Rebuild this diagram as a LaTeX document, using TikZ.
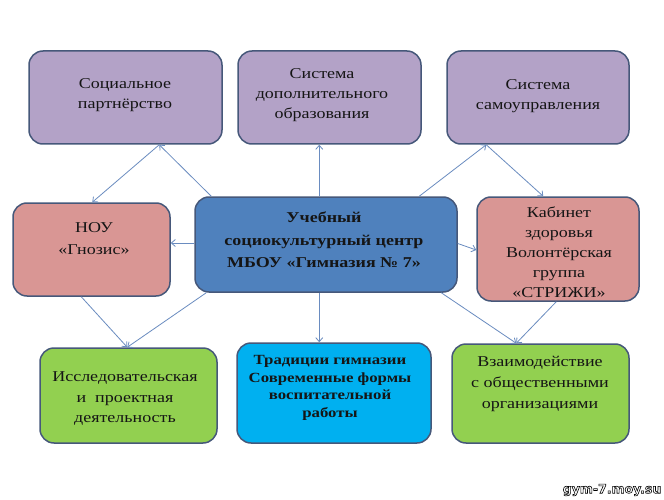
\documentclass[tikz,border=0pt]{standalone}
\usepackage{fontspec}
\setmainfont{Liberation Serif}[FakeStretch=1.2]
\newfontfamily\wmfont{DejaVu Sans}
\usetikzlibrary{arrows.meta,calc}
\definecolor{purp}{HTML}{B3A2C7}
\definecolor{pinkc}{HTML}{D99694}
\definecolor{bluec}{HTML}{4F81BD}
\definecolor{greenc}{HTML}{92D050}
\definecolor{cyanc}{HTML}{00B0F0}
\definecolor{edgec}{HTML}{46587A}
\definecolor{connc}{HTML}{6A8CC0}
\definecolor{txtc}{HTML}{151515}
\begin{document}
\begin{tikzpicture}[x=1pt,y=-1pt,
  box/.style={draw=edgec, line width=1.5pt, rounded corners=14pt, inner sep=0pt},
  txt/.style={align=center, text=txtc, inner sep=0pt, font=\fontsize{15}{20}\selectfont},
  link/.style={draw=connc, line width=0.8pt, -{Straight Barb[length=4pt,width=7pt]}}]
\useasboundingbox (0,0) rectangle (664,500);
\fill[white] (0,0) rectangle (664,500);

% boxes
\node[box, fill=purp,   minimum width=193pt, minimum height=93pt]  (A)   at (125.5,97.5) {};
\node[box, fill=purp,   minimum width=183pt, minimum height=93pt]  (B)   at (329.5,97.5) {};
\node[box, fill=purp,   minimum width=182pt, minimum height=93pt]  (C)   at (538,97.5) {};
\node[box, fill=pinkc,  minimum width=157pt, minimum height=93pt]  (nou) at (91.5,249.5) {};
\node[box, fill=bluec,  minimum width=262pt, minimum height=95pt]  (ctr) at (326,244.5) {};
\node[box, fill=pinkc,  minimum width=162pt, minimum height=104pt] (kab) at (558,249) {};
\node[box, fill=greenc, minimum width=177pt, minimum height=95pt]  (iss) at (128.5,395.5) {};
\node[box, fill=cyanc,  minimum width=194pt, minimum height=100pt] (trad) at (334,393) {};
\node[box, fill=greenc, minimum width=177pt, minimum height=99pt]  (vz)  at (540.5,393.5) {};

% texts
\node[txt] (tA)   at (125,95)  {Социальное\\партнёрство};
\node[txt] (tB)   at (322,95)  {Система\\дополнительного\\образования};
\node[txt] (tC)   at (538,96)  {Система\\самоуправления};
\node[txt, font=\fontsize{15}{22}\selectfont] (tnou) at (94,239) {НОУ\\«Гнозис»};
\node[txt, font=\bfseries\fontsize{15}{22.5}\selectfont] (tctr) at (324,240) {Учебный\\социокультурный центр\\МБОУ «Гимназия № 7»};
\node[txt] (tkab) at (559,252) {Кабинет\\здоровья\\Волонтёрская\\группа\\«СТРИЖИ»};
\node[txt, font=\fontsize{15}{20.5}\selectfont] (tiss) at (125,399) {Исследовательская\\и~ проектная\\деятельность};
\node[txt, font=\bfseries\fontsize{14}{17.5}\selectfont] (ttrad) at (330,388) {Традиции гимназии\\Современные формы\\воспитательной\\работы};
\node[txt, font=\fontsize{15}{21}\selectfont] (tvz) at (540,384) {Взаимодействие\\с общественными\\организациями};

% connectors
\draw[link] ([xshift=17pt]ctr.north west) -- ([xshift=131pt]A.south west);
\draw[link] ([xshift=131pt]A.south west) -- ([xshift=80pt]nou.north west);
\draw[link] ([xshift=125pt]ctr.north west) -- ([xshift=82pt]B.south west);
\draw[link] ([xshift=225pt]ctr.north west) -- ([xshift=40pt]C.south west);
\draw[link] ([xshift=40pt]C.south west) -- ([xshift=67pt]kab.north west);
\draw[link] ([yshift=1.5pt]ctr.west) -- ([yshift=1.5pt]ctr.west -| nou.east);
\draw[link] ([yshift=1pt]ctr.east) -- ([yshift=-1pt]kab.west);
\draw[link] ([xshift=69pt]nou.south west) -- ([xshift=88pt]iss.north west);
\draw[link] ([xshift=12pt]ctr.south west) -- ([xshift=88pt]iss.north west);
\draw[link] ([xshift=125pt]ctr.south west) -- ([xshift=83pt]trad.north west);
\draw[link] ([xshift=247pt]ctr.south west) -- ([xshift=65pt]vz.north west);
\draw[link] ([xshift=80pt]kab.south west) -- ([xshift=65pt]vz.north west);

% watermark
\node[inner sep=0pt, text=white] (wm) at (612,490)
  {\wmfont\bfseries\fontsize{12.5}{12.5}\selectfont\special{pdf:literal direct 2 Tr 0.6 w 0 0 0 RG}gym-7.moy.su\special{pdf:literal direct 0 Tr}};
\end{tikzpicture}
\end{document}
